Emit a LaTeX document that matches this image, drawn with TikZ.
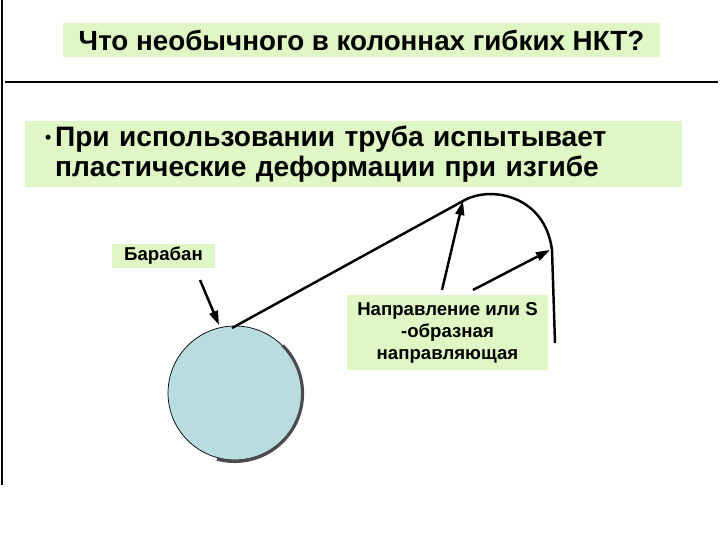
\documentclass[tikz,border=0pt]{standalone}
\usepackage{fontspec}
\setmainfont{Liberation Sans}
\usetikzlibrary{arrows.meta}

\definecolor{boxgreen}{RGB}{222,247,196}
\definecolor{drumblue}{RGB}{184,220,224}

\tikzset{
	greenbox/.style={fill=boxgreen, inner sep=0pt, font=\bfseries},
	pointer/.style={line width=1.4pt, -{Triangle[length=8pt,width=5pt]}},
}

\begin{document}
\begin{tikzpicture}[x=0.02cm, y=-0.02cm]
	\useasboundingbox (0,0) rectangle (720,540);

	% frame lines
	\draw [line width=1.6pt] (2,0) -- (2,485);
	\draw [line width=1.2pt] (5,82) -- (718,82);

	% text boxes
	\node [greenbox, minimum width=11.94cm, minimum height=0.68cm,
		font=\bfseries\fontsize{15.8}{18}\selectfont] (title) at (361.5,40)
		{Что необычного в колоннах гибких НКТ?};
	\node [greenbox, minimum width=13.14cm, minimum height=1.34cm,
		text width=12.54cm, inner xsep=0.3cm, align=left,
		font=\bfseries\fontsize{16}{17.5}\selectfont] (claim) at (353.5,154)
		{\makebox[0.3cm][l]{\hspace{0.1cm}\raisebox{0.05cm}{\fontsize{10}{10}\selectfont\textbullet}}При использовании труба испытывает\\
		\hspace*{0.3cm}пластические деформации при изгибе};
	\node [greenbox, minimum width=2.06cm, minimum height=0.48cm,
		font=\bfseries\fontsize{10.6}{12}\selectfont] (drumlabel) at (163.5,256) {Барабан};
	\node [greenbox, minimum width=4.02cm, minimum height=1.5cm, align=center,
		font=\bfseries\fontsize{10.6}{12.5}\selectfont] (guidelabel) at (447.5,332.5)
		{Направление или S\\-образная\\направляющая};

	% drum
	\node [circle, draw, thin, fill=drumblue, minimum size=2.68cm, inner sep=0pt] (drum) at (235,393) {};
	\draw [line width=1.8pt, black!70] (drum.45) arc [start angle=45, end angle=-105, radius=1.36cm];

	% tube
	\coordinate (tubestart) at (232,328);
	\coordinate (bendtop) at (463,201);
	\coordinate (bendside) at (552,250);
	\coordinate (tubeend) at (555,343);
	\draw [line width=1.4pt] (tubestart) -- (bendtop)
		.. controls (490,185) and (545,195) .. (bendside) -- (tubeend);

	% pointers
	\coordinate (drumtail) at (200,280);
	\coordinate (drumtip) at (219,325);
	\draw [pointer] (drumtail) -- (drumtip);
	\coordinate (guidetail1) at (442,290);
	\coordinate (guidetail2) at (473,290);
	\draw [pointer] (guidetail1) -- (bendtop);
	\draw [pointer] (guidetail2) -- ([xshift=-0.04cm]bendside);
\end{tikzpicture}
\end{document}
